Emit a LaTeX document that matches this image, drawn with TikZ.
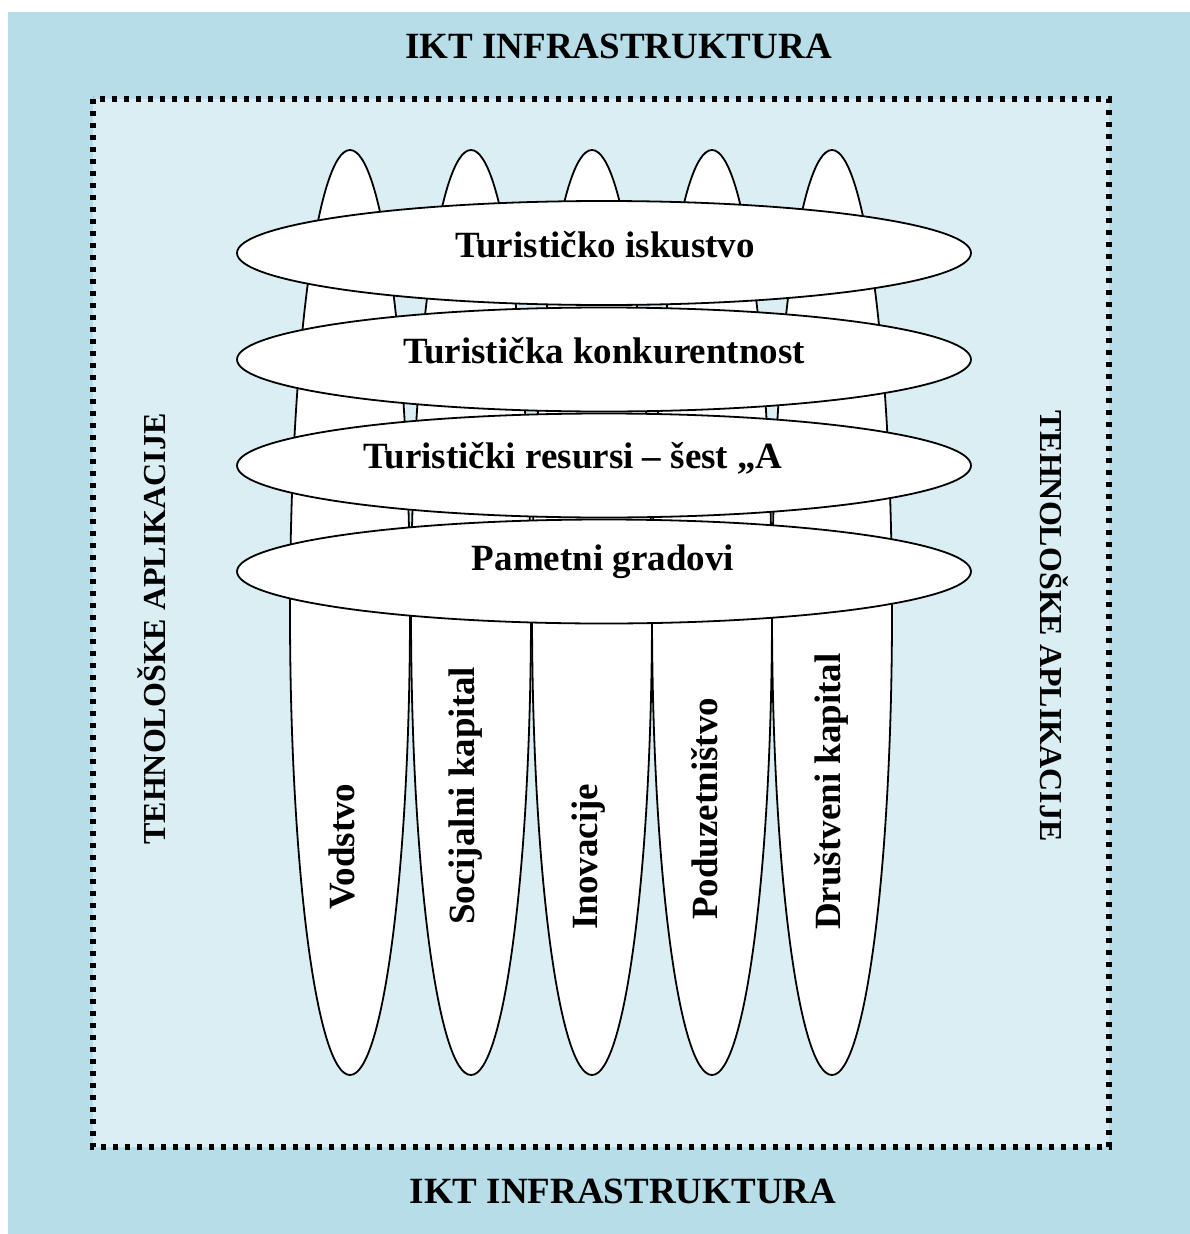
\documentclass[tikz,border=0pt]{standalone}
\usepackage{fontspec}
\setmainfont{Liberation Serif}
\usetikzlibrary{shapes.geometric}
\definecolor{outerblue}{HTML}{B7DDE8}
\definecolor{innerblue}{HTML}{DAEEF3}
\begin{document}
\begin{tikzpicture}[x=1pt,y=-1pt,
  pillar/.style={ellipse,draw=black,fill=white,line width=1.8pt,minimum width=120pt,minimum height=925pt,inner sep=0pt},
  band/.style={ellipse,draw=black,fill=white,line width=1.8pt,minimum width=734pt,minimum height=104pt,inner sep=0pt},
  lbl/.style={font=\fontsize{37}{44}\selectfont\bfseries,inner sep=0pt},
  side/.style={font=\fontsize{32}{38}\selectfont\bfseries,inner sep=0pt},
  frame/.style={draw=black,line width=5.2pt,dash pattern=on 5.2pt off 6.8pt}]
\useasboundingbox (0,0) rectangle (1190,1234);
\fill[outerblue] (8,12) rectangle (1190,1234);
\draw[frame,fill=innerblue] (93,99) rectangle (1109,1147);
% titles
\node[lbl,anchor=base] (toptitle) at (618.5,58) {IKT INFRASTRUKTURA};
\node[lbl,anchor=base] (bottitle) at (623,1203) {IKT INFRASTRUKTURA};
\node[side,rotate=90] (leftside) at (152,629) {TEHNOLOŠKE APLIKACIJE};
\node[side,rotate=-90] (rightside) at (1054,626) {TEHNOLOŠKE APLIKACIJE};
% pillars
\node[pillar] (p1) at (350,612.5) {};
\node[pillar] (p2) at (471,612.5) {};
\node[pillar] (p3) at (592,612.5) {};
\node[pillar] (p4) at (712,612.5) {};
\node[pillar] (p5) at (832,612.5) {};
\node[lbl,rotate=90,anchor=base west] (p1t) at (354,910) {Vodstvo};
\node[lbl,rotate=90,anchor=base west] (p2t) at (474,925) {Socijalni kapital};
\node[lbl,rotate=90,anchor=base west] (p3t) at (597,930) {Inovacije};
\node[lbl,rotate=90,anchor=base west] (p4t) at (717,920) {Poduzetništvo};
\node[lbl,rotate=90,anchor=base west] (p5t) at (840,930) {Društveni kapital};
% bands
\node[band] (b1) at (604,253) {};
\node[band] (b2) at (604,359.5) {};
\node[band] (b3) at (604,465.5) {};
\node[band] (b4) at (604,571.5) {};
\node[lbl,anchor=base] (b1t) at (605,257) {Turističko iskustvo};
\node[lbl,anchor=base] (b2t) at (604,363) {Turistička konkurentnost};
\node[lbl,anchor=base] (b3t) at (573,468) {Turistički resursi – šest „A};
\node[lbl,anchor=base] (b4t) at (603,570) {Pametni gradovi};
\end{tikzpicture}
\end{document}
